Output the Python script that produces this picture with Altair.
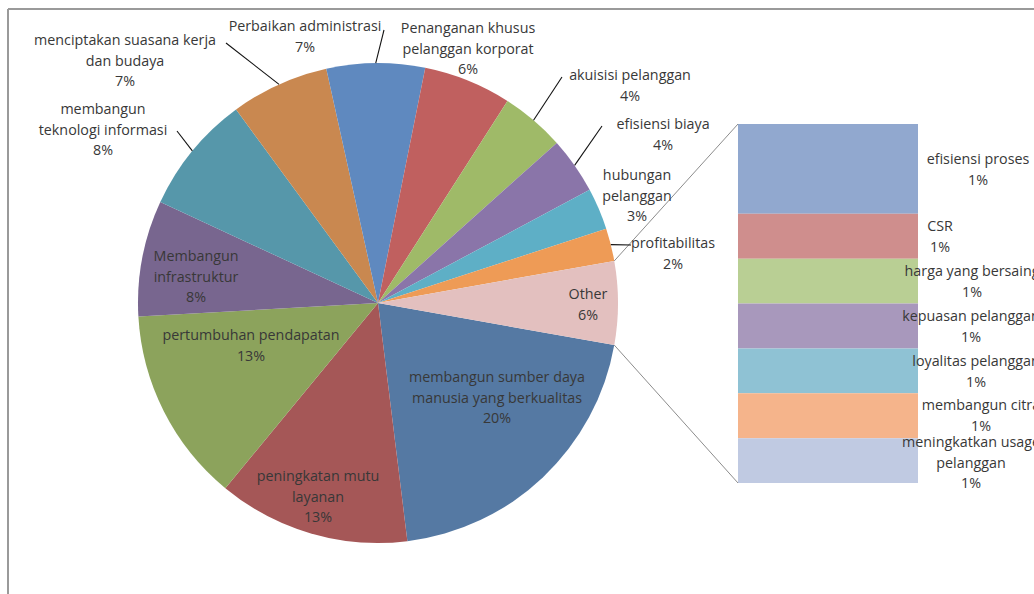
import math
import altair as alt
import pandas as pd

# ---------------- data ----------------
pie_cats = [
    "membangun sumber daya manusia yang berkualitas",
    "peningkatan mutu layanan",
    "pertumbuhan pendapatan",
    "Membangun infrastruktur",
    "membangun teknologi informasi",
    "menciptakan suasana kerja dan budaya",
    "Perbaikan administrasi",
    "Penanganan khusus pelanggan korporat",
    "akuisisi pelanggan",
    "efisiensi biaya",
    "hubungan pelanggan",
    "profitabilitas",
    "Other",
]
pie_vals = [20.2, 12.9, 13.1, 7.8, 8.0, 6.6, 6.6, 5.9, 4.3, 3.8, 2.8, 2.2, 5.6]
pie_label_lines = [
    ["membangun sumber daya", "manusia yang berkualitas"],
    ["peningkatan mutu", "layanan"],
    ["pertumbuhan pendapatan"],
    ["Membangun", "infrastruktur"],
    ["membangun", "teknologi informasi"],
    ["menciptakan suasana kerja", "dan budaya"],
    ["Perbaikan administrasi"],
    ["Penanganan khusus", "pelanggan korporat"],
    ["akuisisi pelanggan"],
    ["efisiensi biaya"],
    ["hubungan", "pelanggan"],
    ["profitabilitas"],
    ["Other"],
]

bar_cats = [
    "efisiensi proses",
    "CSR",
    "harga yang bersaing",
    "kepuasan pelanggan",
    "loyalitas pelanggan",
    "membangun citra",
    "meningkatkan usage pelanggan",
]
bar_vals = [1.4, 0.7, 0.7, 0.7, 0.7, 0.7, 0.7]
bar_label_lines = [
    ["efisiensi proses"],
    ["CSR"],
    ["harga yang bersaing"],
    ["kepuasan pelanggan"],
    ["loyalitas pelanggan"],
    ["membangun citra"],
    ["meningkatkan usage", "pelanggan"],
]

# ---------------- styles / layout ----------------
pie_colors = ["#5579A3", "#A55757", "#8CA35C", "#78668F", "#5697AA", "#C98850",
              "#5F89BF", "#C0605F", "#9FBA68", "#8A75A9", "#5EAFC6", "#EE9B56", "#E3C0BF"]
bar_colors = ["#91A8CF", "#CF8E8D", "#B9CF94", "#A898BC", "#8FC2D4", "#F5B48B", "#C0CAE2"]

CX, CY, R = 378, 303, 240
BAR_X0, BAR_X1, BAR_TOP, BAR_BOTTOM = 738, 918, 124, 483
W, H = 1034, 594
FONT = "Open Sans"
FS = 14.3
TXT = "#383838"

# label anchor positions (centre x, first-line y) for the data labels
pie_label_pos = [(497, 378), (318, 477), (251, 336), (196, 257), (103, 110), (125, 41),
                 (305, 27), (468, 29), (630, 76), (663, 125), (637, 176), (673, 244), (588, 295)]
bar_label_pos = [(978, 160), (940, 227), (972, 272), (971, 317), (976, 362), (981, 406), (971, 443)]
# leader lines: label-side end point per slice index
leader_ends = {5: (226, 43), 4: (177, 131), 6: (384, 30), 8: (562, 77), 9: (602, 126), 11: (631, 245)}

total = sum(pie_vals)
other_share = pie_vals[-1] / total
a0 = math.pi / 2 + math.pi * other_share  # start angle of first slice (clockwise from 12 o'clock)

color_scale = alt.Scale(domain=pie_cats + bar_cats, range=pie_colors + bar_colors)

# ---------------- pie ----------------
pie_df = pd.DataFrame({"cat": pie_cats, "val": pie_vals, "idx": list(range(len(pie_cats)))})
pie = alt.Chart(pie_df).mark_arc(outerRadius=R, stroke=None).encode(
    x=alt.value(CX),
    y=alt.value(CY),
    theta=alt.Theta("val:Q", stack=True,
                    scale=alt.Scale(domain=[0, total], range=[a0, a0 + 2 * math.pi])),
    color=alt.Color("cat:N", scale=color_scale, legend=None),
    order=alt.Order("idx:Q"),
)

# ---------------- bar (stacked "Other" breakdown) ----------------
bar_total = sum(bar_vals)
bar_df = pd.DataFrame({"cat": bar_cats, "val": bar_vals, "idx": list(range(len(bar_cats)))})
bar = alt.Chart(bar_df).transform_stack(
    stack="val", as_=["v0", "v1"], groupby=[],
    sort=[alt.SortField("idx", order="descending")],
).mark_rect(stroke=None).encode(
    x=alt.value(BAR_X0),
    x2=alt.value(BAR_X1),
    y=alt.Y("v0:Q", axis=None,
            scale=alt.Scale(domain=[0, bar_total], range=[BAR_BOTTOM, BAR_TOP])),
    y2="v1:Q",
    color=alt.Color("cat:N", scale=color_scale, legend=None),
)

# ---------------- labels ----------------
rows = []
for i, (lines, v) in enumerate(zip(pie_label_lines, pie_vals)):
    rows.append({"t": "\n".join(lines + [f"{round(v)}%"]), "lx": pie_label_pos[i][0], "ly": pie_label_pos[i][1]})
for i, (lines, v) in enumerate(zip(bar_label_lines, bar_vals)):
    rows.append({"t": "\n".join(lines + [f"{round(v)}%"]), "lx": bar_label_pos[i][0], "ly": bar_label_pos[i][1]})
lab_df = pd.DataFrame(rows)
labels = alt.Chart(lab_df).mark_text(
    font=FONT, fontSize=FS, color=TXT, align="center", baseline="middle",
    lineBreak="\n", lineHeight=20.5,
).encode(
    x=alt.X("lx:Q", scale=None),
    y=alt.Y("ly:Q", scale=None),
    text="t:N",
)

# ---------------- leader lines (from slice mid-angle on the rim) ----------------
cum = 0.0
mids = []
for v in pie_vals:
    mids.append(a0 + 2 * math.pi * (cum + v / 2) / total)
    cum += v
lead_rows = []
for i, (ex, ey) in leader_ends.items():
    a = mids[i]
    lead_rows.append({"x": CX + R * math.sin(a), "y": CY - R * math.cos(a), "x2": ex, "y2": ey})
lead_df = pd.DataFrame(lead_rows)
leaders = alt.Chart(lead_df).mark_rule(color="#111111", strokeWidth=1.1).encode(
    x=alt.X("x:Q", scale=None), y=alt.Y("y:Q", scale=None),
    x2="x2:Q", y2="y2:Q",
)

# ---------------- connector lines pie -> bar ----------------
a_top = a0 - 2 * math.pi * other_share
a_bot = a0
conn_df = pd.DataFrame([
    {"x": CX + R * math.sin(a_top), "y": CY - R * math.cos(a_top), "x2": BAR_X0, "y2": BAR_TOP},
    {"x": CX + R * math.sin(a_bot), "y": CY - R * math.cos(a_bot), "x2": BAR_X0, "y2": BAR_BOTTOM},
])
connectors = alt.Chart(conn_df).mark_rule(color="#6e6e6e", strokeWidth=0.8).encode(
    x=alt.X("x:Q", scale=None), y=alt.Y("y:Q", scale=None),
    x2="x2:Q", y2="y2:Q",
)

# ---------------- chart frame ----------------
frame_df = pd.DataFrame([
    {"x": 8, "y": 9, "x2": W, "y2": 9},
    {"x": 8, "y": 9, "x2": 8, "y2": H},
])
frame = alt.Chart(frame_df).mark_rule(color="#9a9a9a", strokeWidth=2).encode(
    x=alt.X("x:Q", scale=None), y=alt.Y("y:Q", scale=None),
    x2="x2:Q", y2="y2:Q",
)

chart = alt.layer(frame, pie, bar, connectors, leaders, labels).resolve_scale(
    x="independent", y="independent"
).properties(
    width=W, height=H, autosize=alt.AutoSizeParams(type="none"), padding=0,
    background="white",
).configure_view(stroke=None)

chart.save("out.html", embed_options={"renderer": "svg", "actions": False})
